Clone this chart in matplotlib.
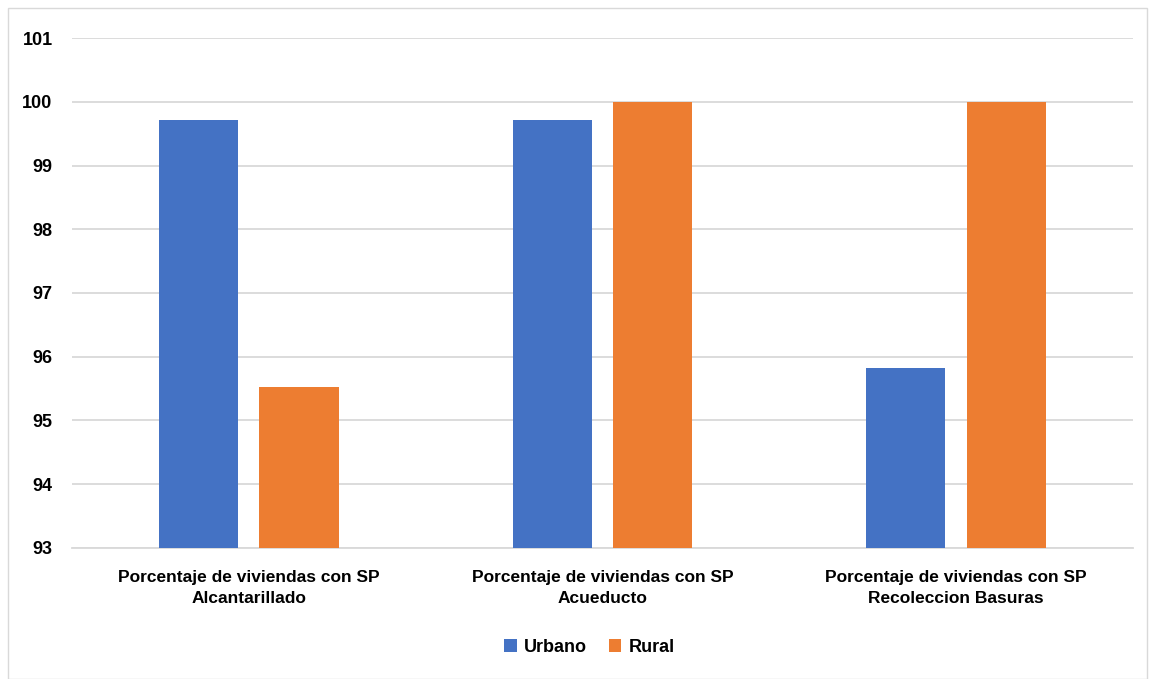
import numpy as np
import matplotlib
matplotlib.use("Agg")
import matplotlib.pyplot as plt
from matplotlib.patches import Rectangle

categories = ["Porcentaje de viviendas con SP\nAlcantarillado",
              "Porcentaje de viviendas con SP\nAcueducto",
              "Porcentaje de viviendas con SP\nRecoleccion Basuras"]
urbano = [99.72, 99.72, 95.82]
rural = [95.53, 100.0, 100.0]
yticks = [93, 94, 95, 96, 97, 98, 99, 100, 101]

plt.rcParams['font.family'] = ['Liberation Sans', 'DejaVu Sans']
plt.rcParams['font.weight'] = 'bold'

fig = plt.figure(figsize=(11.49, 6.79), dpi=100)
ax = fig.add_axes([0.0627, 0.193, 0.9233, 0.751])

x = np.arange(len(categories))
w = 0.224
ax.bar(x - 0.142, urbano, w, color="#4472c4", label="Urbano", zorder=3)
ax.bar(x + 0.142, rural, w, color="#ed7d31", label="Rural", zorder=3)

ax.set_xlim(-0.5, 2.5)
ax.set_ylim(93, 101)
ax.set_yticks(yticks)
ax.set_xticks(x)
ax.set_xticklabels(categories, fontsize=12.5, fontweight='bold', linespacing=1.5)
ax.tick_params(axis='y', length=0, pad=14, labelsize=13)
ax.tick_params(axis='x', length=0, pad=16)
ax.grid(axis='y', color="#d9d9d9", linewidth=1.3, zorder=0)
for s in ['top', 'right', 'left']:
    ax.spines[s].set_visible(False)
ax.spines['bottom'].set_color("#d9d9d9")
ax.spines['bottom'].set_linewidth(1.3)

fig.legend(loc='center', bbox_to_anchor=(0.513, 0.047), ncol=2, frameon=False,
           prop={'size': 13, 'weight': 'bold'}, handlelength=0.7, handleheight=0.7,
           columnspacing=1.2, handletextpad=0.4)

fig.patches.append(Rectangle((8 / 1149, 0.0), 1 - 10 / 1149, 1 - 8 / 679,
                             transform=fig.transFigure, fill=False,
                             edgecolor="#d9d9d9", linewidth=1.0))

fig.savefig("out.png", dpi=100)
